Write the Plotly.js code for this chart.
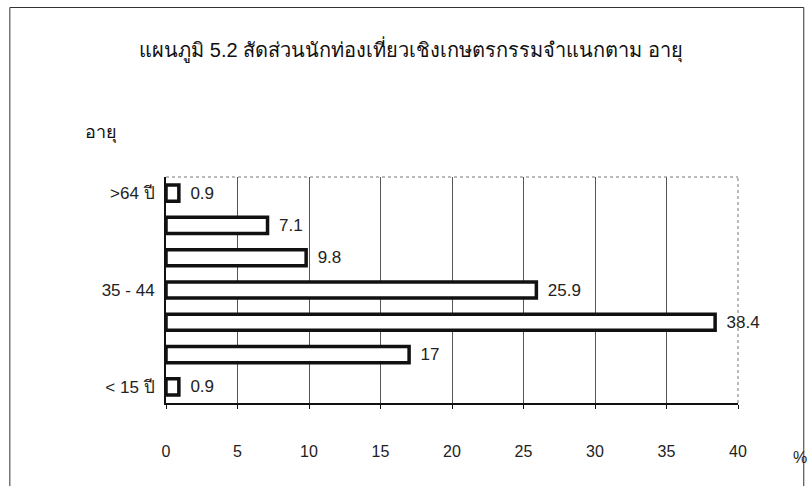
<!DOCTYPE html>
<html>
<head>
<meta charset="utf-8">
<script src="https://cdn.plot.ly/plotly-3.0.1.min.js"></script>
<style>html,body{margin:0;padding:0;background:#fff;}#chart{width:809px;height:486px;}</style>
</head>
<body>
<div id="chart"></div>
<script>
const categories = ["< 15 ปี", "15 - 24", "25 - 34", "35 - 44", "45 - 54", "55 - 64", ">64 ปี"];
const values = [0.9, 17, 38.4, 25.9, 9.8, 7.1, 0.9];
const valueLabels = ["0.9", "17", "38.4", "25.9", "9.8", "7.1", "0.9"];
const shownTicks = ["< 15 ปี", "35 - 44", ">64 ปี"];
const xTicks = [0, 5, 10, 15, 20, 25, 30, 35, 40];
const titleText = "แผนภูมิ 5.2 สัดส่วนนักท่องเที่ยวเชิงเกษตรกรรมจำแนกตาม อายุ";
const yTitle = "อายุ";
const xUnit = "%";

const font = "Liberation Sans, Arial, sans-serif";

const trace = {
  type: "bar",
  orientation: "h",
  y: categories,
  x: values,
  text: valueLabels,
  texttemplate: "\u2002%{text}",
  textposition: "outside",
  constraintext: "none",
  cliponaxis: false,
  textfont: {family: font, size: 17, color: "#222"},
  marker: {color: "#ffffff", line: {color: "#111", width: 3.5}},
  hoverinfo: "none"
};

const layout = {
  width: 809, height: 486,
  margin: {l: 166, r: 71, t: 177, b: 83},
  paper_bgcolor: "#fff", plot_bgcolor: "#fff",
  showlegend: false,
  bargap: 0.5,
  title: {text: titleText, font: {family: font, size: 20, color: "#111"},
          x: 0.508, xanchor: "center", y: 0.898, yanchor: "middle"},
  xaxis: {
    range: [0, 40], tickvals: xTicks, ticktext: xTicks.map(String),
    showgrid: true, gridcolor: "#555", gridwidth: 1,
    zeroline: false, showline: true, linecolor: "#111", linewidth: 2,
    ticks: "outside", ticklen: 4, tickcolor: "#111",
    ticklabelstandoff: 29,
    tickfont: {family: font, size: 16, color: "#222"}, fixedrange: true
  },
  yaxis: {
    type: "category", categoryarray: categories, range: [-0.5, 6.5],
    tickvals: shownTicks, ticktext: shownTicks,
    showgrid: false, zeroline: false, showline: true, linecolor: "#111", linewidth: 2,
    ticks: "", ticklabelstandoff: 6,
    tickfont: {family: font, size: 17, color: "#222"}, fixedrange: true
  },
  shapes: [
    {type: "line", xref: "x domain", yref: "y domain", x0: 0, x1: 1, y0: 1, y1: 1,
     line: {color: "#777", width: 1, dash: "dot"}},
    {type: "line", xref: "x domain", yref: "y domain", x0: 1, x1: 1, y0: 0, y1: 1,
     line: {color: "#777", width: 1, dash: "dot"}},
    {type: "rect", xref: "paper", yref: "paper", x0: -0.273, x1: 1.115, y0: -0.45, y1: 1.75,
     line: {color: "#333", width: 1}, fillcolor: "rgba(0,0,0,0)"}
  ],
  annotations: [
    {text: yTitle, xref: "paper", yref: "paper", x: -0.114, y: 1.195,
     xanchor: "center", yanchor: "middle", showarrow: false,
     font: {family: font, size: 18, color: "#111"}},
    {text: xUnit, xref: "paper", yref: "paper", x: 1.108, y: -0.239,
     xanchor: "center", yanchor: "middle", showarrow: false,
     font: {family: font, size: 16, color: "#222"}}
  ]
};

Plotly.newPlot("chart", [trace], layout, {staticPlot: true, displayModeBar: false});
</script>
</body>
</html>
